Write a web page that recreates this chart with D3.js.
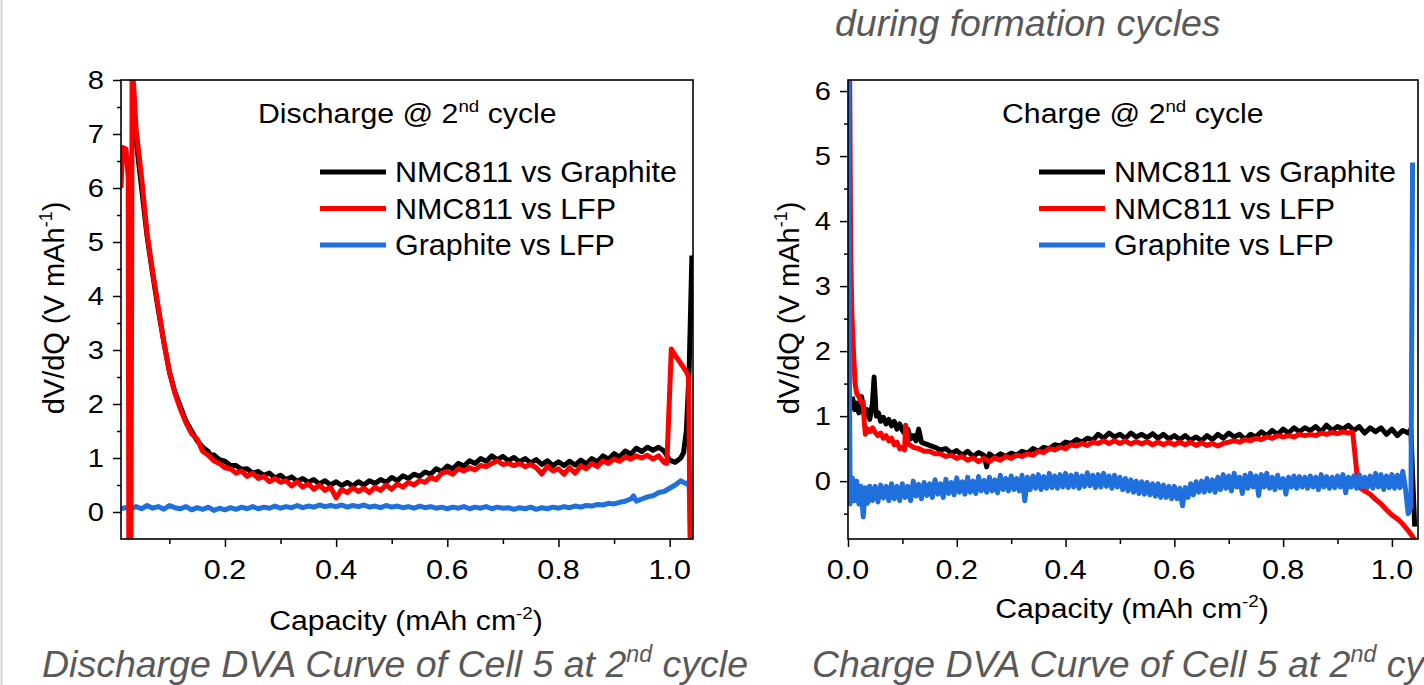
<!DOCTYPE html>
<html><head><meta charset="utf-8">
<script src="https://cdn.jsdelivr.net/npm/d3@7"></script>
<style>html,body{margin:0;padding:0;background:#fff;overflow:hidden}svg{display:block}</style>
</head><body>
<svg id="c" width="1424" height="685"></svg>
<script>
// ---------------- DATA ----------------
const seriesNames = ["NMC811 vs Graphite", "NMC811 vs LFP", "Graphite vs LFP"];
const seriesColors = ["#000000", "#ff0000", "#1f6fdc"];
const panelTitles = ["Discharge @ 2", "Charge @ 2"];
const xTicksLeft = [0.2, 0.4, 0.6, 0.8, 1.0];
const xMinorLeft = [0.1, 0.3, 0.5, 0.7, 0.9];
const yTicksLeft = [0, 1, 2, 3, 4, 5, 6, 7, 8];
const yMinorLeft = [0.5, 1.5, 2.5, 3.5, 4.5, 5.5, 6.5, 7.5];
const xTicksRight = [0.0, 0.2, 0.4, 0.6, 0.8, 1.0];
const xMinorRight = [0.1, 0.3, 0.5, 0.7, 0.9];
const yTicksRight = [0, 1, 2, 3, 4, 5, 6];
const yMinorRight = [-0.5, 0.5, 1.5, 2.5, 3.5, 4.5, 5.5];

// Discharge panel (left)
const dischargeNMCGraphite = [[0.037,7.2],[0.04,6.9],[0.05,6.0],[0.06,5.1],[0.07,4.4],[0.08,3.75],[0.09,3.15],[0.10,2.6],[0.11,2.22],[0.12,1.95],[0.13,1.68],[0.14,1.5],[0.15,1.32],[0.16,1.2],[0.17,1.12],[0.175,1.04],[0.18,1.06],[0.19,0.97],[0.20,0.94],[0.21,0.86],[0.22,0.86],[0.23,0.79],[0.24,0.8],[0.25,0.72],[0.26,0.75],[0.27,0.68],[0.28,0.72],[0.29,0.63],[0.30,0.68],[0.31,0.6],[0.32,0.65],[0.33,0.57],[0.34,0.62],[0.35,0.55],[0.36,0.6],[0.37,0.52],[0.38,0.58],[0.39,0.5],[0.40,0.56],[0.41,0.49],[0.42,0.55],[0.43,0.48],[0.44,0.56],[0.45,0.5],[0.46,0.58],[0.47,0.53],[0.48,0.6],[0.49,0.55],[0.50,0.64],[0.51,0.58],[0.52,0.67],[0.53,0.62],[0.54,0.7],[0.55,0.66],[0.56,0.74],[0.57,0.7],[0.58,0.8],[0.59,0.75],[0.60,0.85],[0.61,0.8],[0.62,0.9],[0.63,0.85],[0.64,0.95],[0.65,0.9],[0.66,0.99],[0.67,0.94],[0.68,1.04],[0.69,0.97],[0.70,1.03],[0.71,0.95],[0.72,1.01],[0.73,0.93],[0.74,0.99],[0.75,0.91],[0.76,0.97],[0.77,0.88],[0.78,0.95],[0.79,0.86],[0.80,0.93],[0.81,0.86],[0.82,0.94],[0.83,0.87],[0.84,0.96],[0.85,0.89],[0.86,0.99],[0.87,0.93],[0.88,1.04],[0.89,0.98],[0.90,1.08],[0.91,1.02],[0.92,1.13],[0.93,1.07],[0.94,1.18],[0.95,1.12],[0.96,1.2],[0.97,1.14],[0.98,1.2],[0.99,1.13],[1.00,0.96],[1.01,0.92],[1.02,1.0],[1.025,1.1],[1.03,1.5],[1.035,2.6],[1.04,4.75]];
const dischargeNMCLFP = [[0.013,6.0],[0.016,6.75],[0.022,6.72],[0.026,6.2],[0.027,-0.7],[0.031,-0.7],[0.033,8.3],[0.037,7.7],[0.04,7.1],[0.05,6.2],[0.06,5.15],[0.07,4.45],[0.08,3.8],[0.09,3.15],[0.10,2.6],[0.11,2.2],[0.12,1.9],[0.13,1.65],[0.14,1.45],[0.15,1.35],[0.16,1.12],[0.17,1.05],[0.18,0.95],[0.19,0.9],[0.20,0.82],[0.21,0.8],[0.22,0.72],[0.23,0.76],[0.24,0.66],[0.25,0.72],[0.26,0.62],[0.27,0.66],[0.28,0.56],[0.29,0.62],[0.30,0.55],[0.31,0.58],[0.32,0.48],[0.33,0.56],[0.34,0.46],[0.35,0.52],[0.36,0.42],[0.37,0.5],[0.38,0.4],[0.39,0.46],[0.40,0.26],[0.41,0.42],[0.42,0.36],[0.43,0.45],[0.44,0.38],[0.45,0.44],[0.46,0.36],[0.47,0.46],[0.48,0.4],[0.49,0.5],[0.50,0.42],[0.51,0.52],[0.52,0.46],[0.53,0.55],[0.54,0.5],[0.55,0.58],[0.56,0.55],[0.57,0.64],[0.58,0.6],[0.59,0.72],[0.60,0.75],[0.61,0.7],[0.62,0.8],[0.63,0.76],[0.64,0.82],[0.65,0.78],[0.66,0.86],[0.67,0.84],[0.68,0.9],[0.69,0.95],[0.70,0.88],[0.71,0.9],[0.72,0.86],[0.73,0.9],[0.74,0.84],[0.75,0.88],[0.76,0.82],[0.77,0.7],[0.78,0.85],[0.79,0.76],[0.80,0.8],[0.81,0.7],[0.82,0.82],[0.83,0.72],[0.84,0.85],[0.85,0.8],[0.86,0.9],[0.87,0.84],[0.88,0.95],[0.89,0.9],[0.90,0.98],[0.91,0.94],[0.92,1.02],[0.93,0.98],[0.94,1.04],[0.95,1.0],[0.96,1.05],[0.97,0.98],[0.98,1.04],[0.99,0.92],[0.995,0.9],[1.003,3.02],[1.01,2.9],[1.02,2.75],[1.03,2.6],[1.034,2.5],[1.037,-0.7]];
const dischargeGraphiteLFP = [[0.013,0.06],[0.02,0.08],[0.03,0.05],[0.04,0.1],[0.05,0.06],[0.06,0.12],[0.07,0.07],[0.08,0.1],[0.09,0.05],[0.10,0.12],[0.11,0.08],[0.12,0.06],[0.13,0.1],[0.14,0.04],[0.15,0.08],[0.16,0.05],[0.17,0.09],[0.18,0.03],[0.19,0.07],[0.20,0.04],[0.21,0.08],[0.22,0.05],[0.23,0.09],[0.24,0.06],[0.25,0.1],[0.26,0.06],[0.27,0.09],[0.28,0.07],[0.29,0.11],[0.30,0.07],[0.31,0.1],[0.32,0.08],[0.33,0.12],[0.34,0.08],[0.35,0.11],[0.36,0.09],[0.37,0.13],[0.38,0.1],[0.39,0.12],[0.40,0.1],[0.41,0.13],[0.42,0.09],[0.43,0.12],[0.44,0.1],[0.45,0.13],[0.46,0.09],[0.47,0.11],[0.48,0.08],[0.49,0.12],[0.50,0.09],[0.51,0.11],[0.52,0.08],[0.53,0.1],[0.54,0.07],[0.55,0.11],[0.56,0.08],[0.57,0.1],[0.58,0.07],[0.59,0.09],[0.60,0.06],[0.61,0.09],[0.62,0.07],[0.63,0.1],[0.64,0.06],[0.65,0.09],[0.66,0.07],[0.67,0.1],[0.68,0.06],[0.69,0.09],[0.70,0.07],[0.71,0.08],[0.72,0.05],[0.73,0.08],[0.74,0.06],[0.75,0.09],[0.76,0.05],[0.77,0.08],[0.78,0.06],[0.79,0.09],[0.80,0.07],[0.81,0.1],[0.82,0.08],[0.83,0.11],[0.84,0.09],[0.85,0.12],[0.86,0.11],[0.87,0.14],[0.88,0.13],[0.89,0.16],[0.90,0.15],[0.91,0.18],[0.92,0.2],[0.93,0.24],[0.935,0.3],[0.94,0.2],[0.95,0.24],[0.96,0.28],[0.97,0.3],[0.98,0.36],[0.99,0.38],[1.00,0.44],[1.01,0.5],[1.02,0.58],[1.025,0.55],[1.03,0.52],[1.035,0.56],[1.038,-0.7]];

// Charge panel (right)
const chargeNMCGraphite = [[0.008,1.3],[0.012,1.1],[0.016,1.2],[0.02,1.05],[0.025,1.3],[0.03,1.0],[0.035,1.1],[0.04,0.95],[0.045,1.2],[0.048,1.6],[0.052,1.0],[0.056,1.05],[0.06,0.92],[0.065,0.98],[0.07,0.88],[0.075,0.95],[0.08,0.85],[0.085,0.92],[0.09,0.8],[0.095,0.88],[0.10,0.78],[0.105,0.72],[0.11,0.8],[0.115,0.65],[0.12,0.7],[0.125,0.62],[0.13,0.8],[0.135,0.6],[0.14,0.58],[0.15,0.55],[0.16,0.52],[0.17,0.48],[0.18,0.5],[0.19,0.43],[0.20,0.47],[0.21,0.4],[0.22,0.46],[0.23,0.38],[0.24,0.44],[0.25,0.4],[0.255,0.22],[0.26,0.42],[0.27,0.36],[0.28,0.42],[0.29,0.38],[0.30,0.43],[0.31,0.4],[0.32,0.46],[0.33,0.43],[0.34,0.5],[0.35,0.46],[0.36,0.52],[0.37,0.5],[0.38,0.56],[0.39,0.54],[0.40,0.6],[0.41,0.58],[0.42,0.64],[0.43,0.6],[0.44,0.66],[0.45,0.63],[0.46,0.72],[0.47,0.66],[0.48,0.74],[0.49,0.68],[0.50,0.72],[0.51,0.66],[0.52,0.74],[0.53,0.68],[0.54,0.72],[0.55,0.67],[0.56,0.73],[0.57,0.66],[0.58,0.72],[0.59,0.65],[0.60,0.7],[0.61,0.64],[0.62,0.7],[0.63,0.63],[0.64,0.68],[0.65,0.62],[0.66,0.7],[0.67,0.64],[0.68,0.72],[0.69,0.66],[0.70,0.74],[0.71,0.68],[0.72,0.72],[0.73,0.64],[0.74,0.72],[0.75,0.68],[0.76,0.76],[0.77,0.7],[0.78,0.78],[0.79,0.72],[0.80,0.8],[0.81,0.74],[0.82,0.82],[0.83,0.76],[0.84,0.82],[0.85,0.78],[0.86,0.84],[0.87,0.76],[0.88,0.86],[0.89,0.78],[0.90,0.84],[0.91,0.8],[0.92,0.86],[0.93,0.78],[0.94,0.84],[0.95,0.74],[0.96,0.82],[0.97,0.76],[0.98,0.82],[0.99,0.72],[1.00,0.8],[1.01,0.7],[1.02,0.78],[1.03,0.74],[1.035,0.8],[1.038,0.1],[1.042,-0.7]];
const chargeNMCLFP = [[0.003,6.3],[0.005,3.5],[0.007,2.6],[0.01,2.0],[0.013,1.5],[0.016,1.35],[0.02,1.3],[0.025,1.2],[0.028,1.22],[0.03,0.9],[0.032,0.72],[0.036,0.8],[0.04,0.76],[0.045,0.82],[0.05,0.75],[0.055,0.7],[0.06,0.74],[0.065,0.66],[0.07,0.7],[0.075,0.62],[0.08,0.66],[0.085,0.56],[0.09,0.6],[0.095,0.5],[0.10,0.52],[0.104,0.48],[0.106,0.86],[0.11,0.58],[0.12,0.52],[0.13,0.5],[0.14,0.46],[0.15,0.46],[0.16,0.42],[0.17,0.42],[0.18,0.38],[0.19,0.4],[0.20,0.35],[0.21,0.38],[0.22,0.32],[0.23,0.36],[0.24,0.3],[0.25,0.35],[0.26,0.3],[0.27,0.36],[0.28,0.32],[0.29,0.38],[0.30,0.35],[0.31,0.4],[0.32,0.38],[0.33,0.42],[0.34,0.4],[0.35,0.46],[0.36,0.44],[0.37,0.5],[0.38,0.48],[0.39,0.52],[0.40,0.5],[0.41,0.56],[0.42,0.54],[0.43,0.58],[0.44,0.55],[0.45,0.6],[0.46,0.58],[0.47,0.62],[0.48,0.58],[0.49,0.62],[0.50,0.58],[0.51,0.62],[0.52,0.57],[0.53,0.61],[0.54,0.57],[0.55,0.61],[0.56,0.56],[0.57,0.6],[0.58,0.56],[0.59,0.6],[0.60,0.56],[0.61,0.6],[0.62,0.56],[0.63,0.6],[0.64,0.55],[0.65,0.59],[0.66,0.55],[0.67,0.58],[0.68,0.54],[0.69,0.58],[0.70,0.6],[0.71,0.62],[0.72,0.6],[0.73,0.64],[0.74,0.62],[0.75,0.66],[0.76,0.64],[0.77,0.68],[0.78,0.66],[0.79,0.7],[0.80,0.68],[0.81,0.7],[0.82,0.68],[0.83,0.72],[0.84,0.7],[0.85,0.72],[0.86,0.7],[0.87,0.74],[0.88,0.72],[0.89,0.75],[0.90,0.73],[0.91,0.76],[0.92,0.74],[0.928,0.75],[0.938,-0.08],[0.95,-0.15],[0.96,-0.2],[0.97,-0.28],[0.98,-0.35],[0.99,-0.44],[1.00,-0.52],[1.01,-0.58],[1.02,-0.66],[1.03,-0.76],[1.038,-0.85],[1.045,-0.95]];
const chargeGraphiteLFP = [[0.001,6.3],[0.002,2.5],[0.004,-0.35],[0.008,0.05],[0.012,-0.3],[0.016,0.0],[0.02,-0.35],[0.024,-0.08],[0.028,-0.55],[0.032,-0.1],[0.036,-0.34],[0.04,-0.08],[0.045,-0.3],[0.05,-0.08],[0.055,-0.32],[0.06,-0.06],[0.065,-0.26],[0.07,-0.08],[0.075,-0.3],[0.08,-0.04],[0.085,-0.27],[0.09,-0.08],[0.095,-0.3],[0.10,-0.04],[0.105,-0.25],[0.11,-0.08],[0.115,-0.3],[0.12,0.0],[0.125,-0.23],[0.13,-0.05],[0.135,-0.27],[0.14,-0.02],[0.145,-0.22],[0.15,-0.04],[0.155,-0.25],[0.16,0.02],[0.165,-0.2],[0.17,-0.04],[0.175,-0.25],[0.18,0.03],[0.185,-0.19],[0.19,-0.02],[0.195,-0.21],[0.20,0.05],[0.205,-0.17],[0.21,-0.01],[0.215,-0.2],[0.22,0.06],[0.225,-0.17],[0.23,0.0],[0.235,-0.19],[0.24,0.07],[0.245,-0.15],[0.25,0.01],[0.255,-0.17],[0.26,0.06],[0.265,-0.15],[0.27,0.02],[0.275,-0.18],[0.28,0.09],[0.285,-0.13],[0.29,0.04],[0.295,-0.15],[0.30,0.08],[0.305,-0.13],[0.31,0.04],[0.315,-0.15],[0.32,0.09],[0.325,-0.3],[0.33,0.06],[0.335,-0.13],[0.34,0.08],[0.345,-0.11],[0.35,0.1],[0.355,-0.13],[0.36,0.07],[0.365,-0.11],[0.37,0.12],[0.375,-0.1],[0.38,0.08],[0.385,-0.11],[0.39,0.1],[0.395,-0.09],[0.40,0.12],[0.405,-0.1],[0.41,0.09],[0.415,-0.09],[0.42,0.11],[0.425,-0.11],[0.43,0.08],[0.435,-0.08],[0.44,0.13],[0.445,-0.07],[0.45,0.09],[0.455,-0.1],[0.46,0.1],[0.465,-0.09],[0.47,0.12],[0.475,-0.08],[0.48,0.08],[0.485,-0.11],[0.49,0.09],[0.495,-0.09],[0.50,0.06],[0.505,-0.13],[0.51,0.04],[0.515,-0.15],[0.52,0.02],[0.525,-0.17],[0.53,0.0],[0.535,-0.19],[0.54,-0.01],[0.545,-0.2],[0.55,-0.02],[0.555,-0.21],[0.56,-0.04],[0.565,-0.23],[0.57,-0.04],[0.575,-0.25],[0.58,-0.06],[0.585,-0.25],[0.59,-0.08],[0.595,-0.27],[0.60,-0.08],[0.605,-0.27],[0.61,-0.11],[0.615,-0.38],[0.62,-0.1],[0.625,-0.25],[0.63,-0.04],[0.635,-0.21],[0.64,-0.01],[0.645,-0.17],[0.65,0.0],[0.655,-0.17],[0.66,0.04],[0.665,-0.15],[0.67,0.02],[0.675,-0.17],[0.68,0.06],[0.685,-0.13],[0.69,0.1],[0.695,-0.11],[0.70,0.08],[0.705,-0.15],[0.71,0.12],[0.715,-0.09],[0.72,0.06],[0.725,-0.19],[0.73,0.09],[0.735,-0.11],[0.74,0.12],[0.745,-0.09],[0.75,0.08],[0.755,-0.22],[0.76,0.1],[0.765,-0.09],[0.77,0.12],[0.775,-0.11],[0.78,0.06],[0.785,-0.13],[0.79,0.09],[0.795,-0.1],[0.80,0.04],[0.805,-0.2],[0.81,0.06],[0.815,-0.09],[0.82,0.08],[0.825,-0.11],[0.83,0.07],[0.835,-0.09],[0.84,0.06],[0.845,-0.11],[0.85,0.08],[0.855,-0.09],[0.86,0.06],[0.865,-0.13],[0.87,0.1],[0.875,-0.09],[0.88,0.07],[0.885,-0.11],[0.89,0.06],[0.895,-0.1],[0.90,0.08],[0.905,-0.09],[0.91,0.1],[0.915,-0.18],[0.92,0.06],[0.925,-0.09],[0.93,0.08],[0.935,-0.11],[0.94,0.1],[0.945,-0.09],[0.95,0.06],[0.955,-0.1],[0.96,0.08],[0.965,-0.11],[0.97,0.12],[0.975,-0.09],[0.98,0.1],[0.985,-0.13],[0.99,0.08],[0.995,-0.1],[1.00,0.1],[1.005,-0.11],[1.01,0.09],[1.015,-0.1],[1.02,0.15],[1.025,-0.12],[1.03,-0.5],[1.035,-0.4],[1.038,4.9]];

// ---------------- DRAW ----------------
const svg = d3.select("#c");
const FONT = "'Liberation Sans', Arial, sans-serif";

// slide border line at far left
svg.append("line").attr("x1",1.5).attr("x2",1.5).attr("y1",0).attr("y2",685)
  .attr("stroke","#d4d4d4").attr("stroke-width",2);

function richText(g, x, y, parts, o) {
  const fs = o.size, sx = o.sx || 1;
  const t = g.append("text")
    .attr("transform", `translate(${x},${y})` + (o.rotate ? ` rotate(${o.rotate})` : "") + ` scale(${sx},1)`)
    .attr("font-family", FONT).attr("font-size", fs)
    .attr("font-style", o.italic ? "italic" : "normal")
    .attr("fill", o.fill || "#000")
    .attr("text-anchor", o.anchor || "start");
  let shifted = false;
  parts.forEach(p => {
    const s = t.append("tspan").text(p[0]);
    if (p[1]) { s.attr("font-size", fs * 0.62).attr("dy", -fs * 0.4); shifted = true; }
    else if (shifted) { s.attr("dy", fs * 0.4); shifted = false; }
  });
  return t;
}

function panel(cfg) {
  const g = svg.append("g");
  const x = d3.scaleLinear().domain(cfg.xDomain).range([cfg.left, cfg.right]);
  const y = d3.scaleLinear().domain(cfg.yDomain).range([cfg.bottom, cfg.top]);
  const cid = "clip" + cfg.id;
  svg.append("defs").append("clipPath").attr("id", cid).append("rect")
    .attr("x", cfg.left).attr("y", cfg.top).attr("width", cfg.right - cfg.left).attr("height", cfg.bottom - cfg.top);

  const line = d3.line().x(d => x(d[0])).y(d => y(d[1]));
  const lines = g.append("g").attr("clip-path", `url(#${cid})`);
  cfg.order.forEach(i => {
    lines.append("path").datum(cfg.series[i]).attr("d", line)
      .attr("fill", "none").attr("stroke", seriesColors[i]).attr("stroke-width", 5)
      .attr("stroke-linejoin", "round").attr("stroke-linecap", "butt");
  });

  // axes
  const axB = g.append("g").attr("transform", `translate(0,${cfg.bottom})`)
    .call(d3.axisBottom(x).tickValues(cfg.xTicks).tickSize(8).tickFormat(d3.format(".1f")));
  const axBm = g.append("g").attr("transform", `translate(0,${cfg.bottom})`)
    .call(d3.axisBottom(x).tickValues(cfg.xMinor).tickSize(5).tickFormat(""));
  const axL = g.append("g").attr("transform", `translate(${cfg.left},0)`)
    .call(d3.axisLeft(y).tickValues(cfg.yTicks).tickSize(8).tickFormat(d3.format("d")));
  const axLm = g.append("g").attr("transform", `translate(${cfg.left},0)`)
    .call(d3.axisLeft(y).tickValues(cfg.yMinor).tickSize(4).tickFormat(""));
  [axB, axBm, axL, axLm].forEach(a => {
    a.select(".domain").remove();
    a.selectAll(".tick line").attr("stroke", "#000").attr("stroke-width", 1.5);
  });
  axB.selectAll(".tick text").remove();
  axL.selectAll(".tick text").remove();
  cfg.xTicks.forEach(v => richText(g, x(v), 579, [[d3.format(".1f")(v)]], {size: 27, sx: 1.13, anchor: "middle"}));
  cfg.yTicks.forEach(v => richText(g, cfg.left - 17, y(v) + 9, [[String(v)]], {size: 26, sx: 1.12, anchor: "end"}));

  // frame
  g.append("rect").attr("x", cfg.left).attr("y", cfg.top)
    .attr("width", cfg.right - cfg.left).attr("height", cfg.bottom - cfg.top)
    .attr("fill", "none").attr("stroke", "#000").attr("stroke-width", 1.6);

  // panel title
  richText(g, cfg.titleX, 123, [[cfg.title], ["nd", true], [" cycle"]], {size: 27, sx: 1.12});

  // legend
  seriesNames.forEach((n, i) => {
    const ly = 172 + i * 36.5;
    g.append("line").attr("x1", cfg.legX).attr("x2", cfg.legX + 66).attr("y1", ly).attr("y2", ly)
      .attr("stroke", seriesColors[i]).attr("stroke-width", 5);
    richText(g, cfg.legX + 75, ly + 10, [[n]], {size: 29, sx: 1.05});
  });

  // axis titles
  richText(g, cfg.xTitleX, cfg.xTitleY, [["Capacity (mAh cm"], ["-2", true], [")"]], {size: 27, sx: 1.12, anchor: "middle"});
  richText(g, cfg.yTitleX, 308, [["dV/dQ (V mAh"], ["-1", true], [")"]], {size: 29, rotate: -90, anchor: "middle"});
}

panel({id: "L", left: 121, right: 693, top: 80, bottom: 539,
  xDomain: [0.013, 1.042], yDomain: [-0.5, 8],
  xTicks: xTicksLeft, xMinor: xMinorLeft, yTicks: yTicksLeft, yMinor: yMinorLeft,
  series: [dischargeNMCGraphite, dischargeNMCLFP, dischargeGraphiteLFP], order: [2, 0, 1],
  title: panelTitles[0], titleX: 258, legX: 320,
  xTitleX: 406, xTitleY: 630, yTitleX: 64});

panel({id: "R", left: 848, right: 1418, top: 80, bottom: 539,
  xDomain: [0, 1.048], yDomain: [-0.89, 6.17],
  xTicks: xTicksRight, xMinor: xMinorRight, yTicks: yTicksRight, yMinor: yMinorRight,
  series: [chargeNMCGraphite, chargeNMCLFP, chargeGraphiteLFP], order: [0, 1, 2],
  title: panelTitles[1], titleX: 1002, legX: 1039,
  xTitleX: 1132, xTitleY: 618, yTitleX: 799});

// captions
const cap = svg.append("g");
richText(cap, 835, 36, [["during formation cycles"]], {size: 37.5, italic: true, fill: "#595959"});
richText(cap, 42, 677, [["Discharge DVA Curve of Cell 5 at 2"], ["nd", true], [" cycle"]], {size: 37.5, italic: true, fill: "#595959"});
richText(cap, 812, 677, [["Charge DVA Curve of Cell 5 at 2"], ["nd", true], [" cycle"]], {size: 37.5, italic: true, fill: "#595959"});
</script>
</body></html>
